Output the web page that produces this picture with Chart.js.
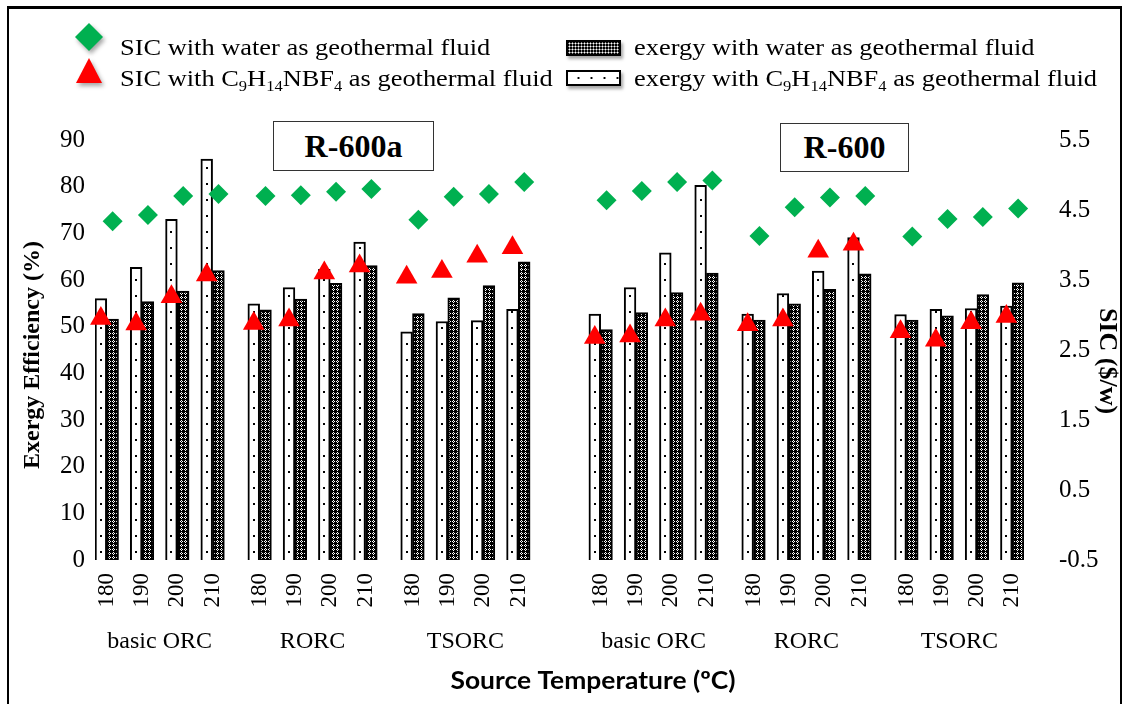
<!DOCTYPE html>
<html>
<head>
<meta charset="utf-8">
<script src="https://cdn.jsdelivr.net/npm/chart.js@4.4.0/dist/chart.umd.min.js"></script>
<style>
  body { margin: 0; background: #fff; }
  #wrap { position: relative; width: 1127px; height: 704px; overflow: hidden;
          font-family: 'Liberation Serif', 'Times New Roman', serif; color: #000; }
  #frame { position: absolute; left: 7px; top: 6px; width: 1115px; height: 740px; box-sizing: border-box;
           border: 2px solid #000; border-top-width: 3px; pointer-events: none; z-index: 3; }
  canvas { position: absolute; left: 0; top: 0; }
  .leg { position: absolute; font-size: 24px; line-height: 24px; white-space: nowrap; z-index: 2;
         transform: scaleX(1.1); transform-origin: 0 0; }
  .leg sub { font-size: 15px; vertical-align: -5px; line-height: 0; }
  .icon { position: absolute; z-index: 2; filter: drop-shadow(2px 3px 2px rgba(0,0,0,0.35)); }
  .swatch { position: absolute; width: 55px; height: 16px; box-sizing: border-box; border: 2px solid #000;
            z-index: 2; box-shadow: 2px 3px 3px rgba(0,0,0,0.35); }
  .box { position: absolute; box-sizing: border-box; border: 1.5px solid #333; font-weight: bold; font-size: 32px;
         display: flex; align-items: center; justify-content: center; background: #fff; z-index: 2; }
</style>
</head>
<body>
<div id="wrap">
  <canvas id="chart" width="1127" height="704"></canvas>

  <svg class="icon" style="left:75px; top:23px" width="28" height="28"><polygon points="14,0 28,14 14,28 0,14" fill="#00b050"/></svg>
  <div class="leg" style="left:120px; top:35px">SIC with water as geothermal fluid</div>
  <svg class="icon" style="left:76px; top:58px" width="26" height="25"><polygon points="13,0 26,25 0,25" fill="#ff0000"/></svg>
  <div class="leg" style="left:120px; top:66px">SIC with C<sub>9</sub>H<sub>14</sub>NBF<sub>4</sub> as geothermal fluid</div>

  <div class="swatch" style="left:566px; top:40px; background:#000 radial-gradient(circle, #fff 0.8px, transparent 1.2px) 0 0 / 3px 3px;"></div>
  <div class="leg" style="left:634px; top:35px">exergy with water as geothermal fluid</div>
  <div class="swatch" style="left:566px; top:70px; background:#fff radial-gradient(circle, #000 0.9px, transparent 1.3px) 4px 0 / 13px 12px;"></div>
  <div class="leg" style="left:634px; top:66px">exergy with C<sub>9</sub>H<sub>14</sub>NBF<sub>4</sub> as geothermal fluid</div>

  <div class="box" style="left:273px; top:121px; width:161px; height:50px;">R-600a</div>
  <div class="box" style="left:780px; top:123px; width:129px; height:49px;">R-600</div>

  <div id="frame"></div>
</div>

<script>
// Categorías
const refrigerants = ['R-600a', 'R-600'];
const cycles = ['basic ORC', 'RORC', 'TSORC'];
const temps = ['180', '190', '200', '210'];

// Eficiencia exergética (%) - barras
const exergyIL    = [56.0, 62.7, 73.0, 85.9, 54.9, 58.4, 62.3, 68.1, 48.9, 51.1, 51.3, 53.7,
                     52.7, 58.4, 65.8, 80.3, 52.7, 57.1, 61.9, 69.1, 52.6, 53.7, 53.9, 54.4];
const exergyWater = [51.6, 55.4, 57.6, 62.0, 53.6, 55.9, 59.3, 63.1, 52.8, 56.2, 58.8, 63.9,
                     49.4, 53.0, 57.3, 61.5, 51.4, 54.9, 58.0, 61.3, 51.4, 52.3, 56.9, 59.4];

// SIC ($/w) - marcadores
const sicWater = [4.34, 4.43, 4.70, 4.73, 4.70, 4.71, 4.76, 4.80, 4.36, 4.69, 4.73, 4.90,
                  4.64, 4.77, 4.90, 4.92, 4.13, 4.54, 4.68, 4.70, 4.12, 4.37, 4.40, 4.52];
const sicIL    = [2.95, 2.87, 3.26, 3.57, 2.88, 2.93, 3.60, 3.70, 3.54, 3.62, 3.84, 3.96,
                  2.68, 2.70, 2.93, 3.01, 2.86, 2.93, 3.91, 4.01, 2.76, 2.64, 2.89, 2.98];

// Slots: each temperature = [C9 bar, water bar], then blank slots as spacers
const slotLabels = [];
const slotIL = [], slotWater = [], slotSicW = [], slotSicIL = [];
const groups = [];
let k = 0;
refrigerants.forEach((r, ri) => {
  cycles.forEach((c, ci) => {
    const g = { name: c, first: slotLabels.length };
    temps.forEach((t, ti) => {
      slotLabels.push(t);  slotIL.push(exergyIL[k]); slotWater.push(null); slotSicIL.push(sicIL[k]); slotSicW.push(null);
      slotLabels.push('');  slotIL.push(null); slotWater.push(exergyWater[k]); slotSicIL.push(null); slotSicW.push(sicWater[k]);
      g.last = slotLabels.length - 1;
      k++;
      let blanks = 1;
      if (ti === temps.length - 1) blanks = (ci < cycles.length - 1) ? 2 : (ri < refrigerants.length - 1 ? 5 : 0);
      for (let b = 0; b < blanks; b++) {
        slotLabels.push(''); slotIL.push(null); slotWater.push(null); slotSicIL.push(null); slotSicW.push(null);
      }
    });
    groups.push(g);
  });
});

// Patrones de relleno
const dotTile = document.createElement('canvas');
dotTile.width = 12; dotTile.height = 16;
(function () {
  const t = dotTile.getContext('2d');
  t.fillStyle = '#fff'; t.fillRect(0, 0, 12, 16);
  t.fillStyle = '#000'; t.fillRect(5, 7, 2, 2);
})();
const darkTile = document.createElement('canvas');
darkTile.width = 4; darkTile.height = 4;
(function () {
  const t = darkTile.getContext('2d');
  t.fillStyle = '#000'; t.fillRect(0, 0, 4, 4);
  t.fillStyle = '#fff';
  [[1, 0], [0, 1], [2, 1], [1, 2]].forEach(p => t.fillRect(p[0], p[1], 1, 1));
})();

function dotPattern(ctx) {
  const chart = ctx.chart;
  const xs = chart.scales && chart.scales.x;
  if (!xs || ctx.dataIndex === undefined) return '#fff';
  const x = xs.getPixelForValue(ctx.dataIndex);
  const p = chart.ctx.createPattern(dotTile, 'repeat');
  p.setTransform(new DOMMatrix([1, 0, 0, 1, Math.round(x) - 6, 0]));
  return p;
}

const extraText = {
  id: 'extraText',
  afterDraw(chart) {
    const c = chart.ctx, xs = chart.scales.x;
    c.save();
    c.fillStyle = '#000';
    c.textAlign = 'center';
    c.textBaseline = 'alphabetic';
    c.font = '24px "Liberation Serif"';
    groups.forEach(g => {
      const x = (xs.getPixelForValue(g.first) + xs.getPixelForValue(g.last)) / 2;
      c.fillText(g.name, x, 648);
    });
    c.textBaseline = 'middle';
    c.font = 'bold 24px "Liberation Serif"';
    c.save(); c.translate(33, 355); c.rotate(-Math.PI / 2); c.fillText('Exergy Efficiency (%)', 0, 0); c.restore();
    c.font = 'bold 26px "Liberation Serif"';
    c.save(); c.translate(1107, 361); c.rotate(Math.PI / 2); c.fillText('SIC ($/w)', 0, 0); c.restore();
    c.font = 'bold 24px Lato';
    c.save(); c.translate(593, 681); c.scale(1.1, 1); c.fillText('Source Temperature (\u00baC)', 0, 0); c.restore();
    c.restore();
  }
};

Chart.defaults.font.family = "'Liberation Serif', 'Times New Roman', serif";
Chart.defaults.color = '#000';

new Chart(document.getElementById('chart').getContext('2d'), {
  type: 'bar',
  data: {
    labels: slotLabels,
    datasets: [
      { type: 'line', label: 'SIC with water as geothermal fluid', data: slotSicW, yAxisID: 'y1',
        showLine: false, pointStyle: 'rectRot', pointRadius: 10, pointBackgroundColor: '#00b050',
        pointBorderWidth: 0, order: 1 },
      { type: 'line', label: 'SIC with C9H14NBF4 as geothermal fluid', data: slotSicIL, yAxisID: 'y1',
        showLine: false, pointStyle: 'triangle', pointRadius: 12.5, pointBackgroundColor: '#ff0000',
        pointBorderWidth: 0, order: 1 },
      { type: 'bar', label: 'exergy with water as geothermal fluid', data: slotWater, yAxisID: 'y',
        backgroundColor: ctx => ctx.chart.ctx.createPattern(darkTile, 'repeat'),
        borderColor: '#000', borderWidth: 2, grouped: false, barPercentage: 1, categoryPercentage: 1, order: 2 },
      { type: 'bar', label: 'exergy with C9H14NBF4 as geothermal fluid', data: slotIL, yAxisID: 'y',
        backgroundColor: dotPattern,
        borderColor: '#000', borderWidth: 2, grouped: false, barPercentage: 1, categoryPercentage: 1, order: 2 }
    ]
  },
  options: {
    responsive: false,
    animation: false,
    events: [],
    layout: { padding: { top: 140, left: 0, right: 0, bottom: 0 } },
    plugins: { legend: { display: false }, tooltip: { enabled: false } },
    scales: {
      x: {
        type: 'category', offset: true,
        grid: { display: false, drawTicks: false },
        border: { display: false },
        ticks: { autoSkip: false, maxRotation: 90, minRotation: 90, padding: 13, labelOffset: 6,
                 font: { size: 23 }, color: '#000' },
        afterFit: s => { s.height = 144; }
      },
      y: {
        position: 'left', min: 0, max: 90,
        grid: { display: false, drawTicks: false },
        border: { display: false },
        ticks: { stepSize: 10, padding: 10, font: { size: 25 }, color: '#000' },
        afterFit: s => { s.width = 95; }
      },
      y1: {
        position: 'right', min: -0.5, max: 5.5,
        grid: { display: false, drawTicks: false },
        border: { display: false },
        ticks: { stepSize: 1, padding: 35, font: { size: 25 }, color: '#000' },
        afterFit: s => { s.width = 103; }
      }
    }
  },
  plugins: [extraText]
});
</script>
</body>
</html>
